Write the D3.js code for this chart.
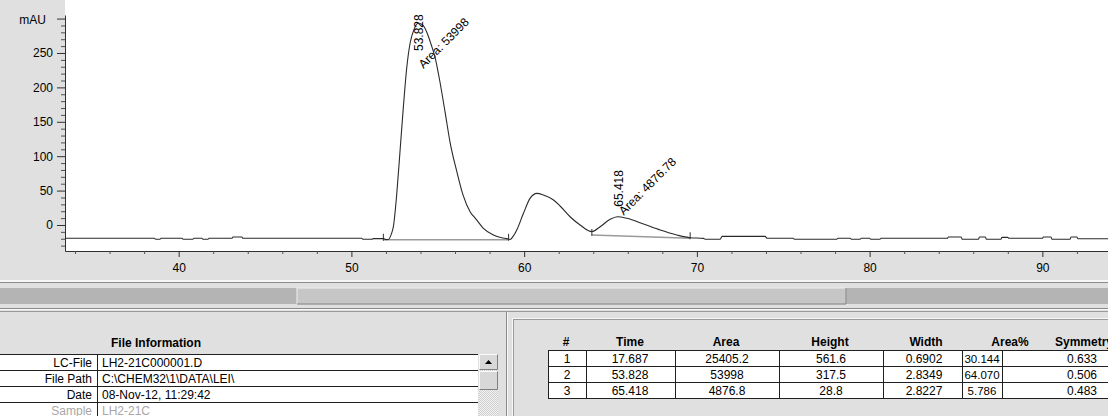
<!DOCTYPE html>
<html><head><meta charset="utf-8">
<script src="https://cdn.jsdelivr.net/npm/d3@7"></script>
<style>
body{margin:0;background:#e0e0e0;overflow:hidden;}
svg{display:block;font-family:"Liberation Sans",Arial,sans-serif;}
</style></head><body>
<svg id="c" width="1108" height="416"></svg>
<script>
// ---------------- data ----------------
const times = [33.42,38.60,38.66,38.92,38.98,40.20,40.26,40.82,40.88,41.34,41.40,41.70,41.76,43.08,43.14,43.66,43.72,50.60,50.66,51.20,51.26,51.85,52.00,52.14,52.30,52.43,52.63,52.82,53.01,53.21,53.40,53.62,53.88,54.15,54.40,54.62,54.85,55.14,55.43,55.72,56.10,56.47,56.88,57.20,57.64,58.22,58.70,59.00,59.19,59.35,59.58,59.96,60.35,60.74,61.12,61.70,62.08,62.66,63.24,63.92,64.40,64.98,65.42,65.95,66.91,67.88,68.84,69.61,70.38,70.50,71.35,71.46,73.95,74.07,75.58,75.64,78.10,78.16,78.88,78.94,79.45,79.51,80.00,80.06,80.60,80.66,84.50,84.56,85.30,85.36,86.30,86.36,86.70,86.76,87.60,87.66,88.00,88.06,90.00,90.06,90.50,90.56,91.60,91.66,92.00,92.06,93.80];
const signal = [-19.3,-19.3,-20.8,-20.8,-19.3,-19.3,-20.8,-20.8,-19.3,-19.3,-20.8,-20.8,-19.3,-19.3,-17.5,-17.5,-19.3,-19.3,-20.8,-20.8,-19.8,-19.8,-21.2,-21.0,-14,-2.5,46.5,109,172,230,264.5,284,293.5,290,278,262,243,206,163,119,78,43,19,9,-4.8,-14.5,-18.5,-19.8,-21,-17,-7,17,39,46,43.6,36.3,27.6,12,0,-9.7,-2.5,8.3,12,9.7,1.5,-7.3,-14.5,-18.5,-19.5,-20.8,-20.8,-16.5,-16.5,-19.3,-19.3,-20.8,-20.8,-19.3,-19.3,-20.8,-20.8,-19.3,-19.3,-20.8,-20.8,-19.3,-19.3,-17.5,-17.5,-20.8,-20.8,-17.5,-17.5,-20.8,-20.8,-18,-18,-19.3,-19.3,-17.5,-17.5,-20.8,-20.8,-17.5,-17.5,-20,-20];

const yMajorTicks = [0,50,100,150,200,250,300];
const yAxisUnit = "mAU";
const xMajorTicks = [40,50,60,70,80,90];

// integration baselines (start/end time and level)
const baseStartTime = [51.85, 63.92];
const baseEndTime   = [59.10, 69.61];
const baseStartVal  = [-21.5, -14.5];
const baseEndVal    = [-21.5, -19.3];

// annotated peaks on the chart
const labelTimes = [53.828, 65.418];
const labelAreas = ["53998", "4876.78"];

// peak table
const pkNo     = [1, 2, 3];
const pkTime   = [17.687, 53.828, 65.418];
const pkArea   = [25405.2, 53998, 4876.8];
const pkHeight = [561.6, 317.5, 28.8];
const pkWidth  = [0.6902, 2.8349, 2.8227];
const pkAreaP  = [30.144, 64.070, 5.786];
const pkSym    = [0.633, 0.506, 0.483];
const pkHeaders = ["#","Time","Area","Height","Width","Area%","Symmetry"];

// file information
const infoLabels = ["LC-File","File Path","Date","Sample"];
const infoValues = ["LH2-21C000001.D","C:\\CHEM32\\1\\DATA\\LEI\\","08-Nov-12, 11:29:42","LH2-21C"];
const infoTitle = "File Information";

// ---------------- drawing ----------------
const W = 1108, H = 416;
const M = {left: 65, top: 15, bottom: 251};
const svg = d3.select("#c");
const bg = "#e0e0e0";

svg.append("rect").attr("width", W).attr("height", H).attr("fill", bg);
svg.append("rect").attr("x", M.left).attr("y", 0).attr("width", W - M.left)
   .attr("height", M.bottom).attr("fill", "#fff");

const x = d3.scaleLinear().domain([33.42, 93.8]).range([M.left, W]);
const y = d3.scaleLinear().domain([-37.8, 305.2]).range([M.bottom, M.top]);

const defs = svg.append("defs");
defs.append("clipPath").attr("id", "plotclip").append("rect")
  .attr("x", M.left).attr("y", M.top).attr("width", W - M.left).attr("height", M.bottom - M.top);

const pat = defs.append("pattern").attr("id", "chk").attr("width", 2).attr("height", 2)
  .attr("patternUnits", "userSpaceOnUse");
pat.append("rect").attr("width", 2).attr("height", 2).attr("fill", "#f2f2f2");
pat.append("rect").attr("width", 1).attr("height", 1).attr("fill", "#cfcfcf");
pat.append("rect").attr("x", 1).attr("y", 1).attr("width", 1).attr("height", 1).attr("fill", "#cfcfcf");

// y axis
const gy = svg.append("g").attr("transform", `translate(${M.left},0)`)
  .call(d3.axisLeft(y).tickValues(yMajorTicks).tickSize(8).tickPadding(4).tickSizeOuter(0)
    .tickFormat(d => d === 300 ? yAxisUnit : d));
gy.selectAll("text").attr("font-size", 12).attr("font-family", "Liberation Sans, Arial").attr("fill", "#000")
  .filter(d => d === 300).attr("x", -19).attr("dy", "0.45em");
gy.selectAll("line,path").attr("stroke", "#303030");
const yMinor = d3.range(-30, 301, 10).filter(v => v % 50 !== 0);
const gym = svg.append("g").attr("transform", `translate(${M.left},0)`)
  .call(d3.axisLeft(y).tickValues(yMinor).tickSize(4).tickFormat(""));
gym.select(".domain").remove();
gym.selectAll("line").attr("stroke", "#505050");

// x axis
const gx = svg.append("g").attr("transform", `translate(0,${M.bottom})`)
  .call(d3.axisBottom(x).tickValues(xMajorTicks).tickSize(6).tickPadding(6).tickSizeOuter(0));
gx.selectAll("text").attr("font-size", 12).attr("font-family", "Liberation Sans, Arial").attr("fill", "#000");
gx.selectAll("line,path").attr("stroke", "#303030");
const xMinor = d3.range(34, 94, 2).filter(v => v % 10 !== 0);
const gxm = svg.append("g").attr("transform", `translate(0,${M.bottom})`)
  .call(d3.axisBottom(x).tickValues(xMinor).tickSize(3).tickFormat(""));
gxm.select(".domain").remove();
gxm.selectAll("line").attr("stroke", "#505050");

// plot content
const plot = svg.append("g").attr("clip-path", "url(#plotclip)");
const pts = times.map((t, i) => [t, signal[i]]);

baseStartTime.forEach((t, i) => {
  plot.append("line").attr("x1", x(t)).attr("y1", y(baseStartVal[i]))
    .attr("x2", x(baseEndTime[i])).attr("y2", y(baseEndVal[i]))
    .attr("stroke", "#9a9a9a").attr("stroke-width", 1.5);
});

plot.append("path").datum(pts)
  .attr("d", d3.line().x(d => x(d[0])).y(d => y(d[1])).curve(d3.curveMonotoneX))
  .attr("fill", "none").attr("stroke", "#2a2a2a").attr("stroke-width", 1.1);

baseStartTime.forEach((t, i) => {
  [[t, baseStartVal[i]], [baseEndTime[i], baseEndVal[i]]].forEach(([tt, vv]) => {
    plot.append("line").attr("x1", x(tt)).attr("x2", x(tt))
      .attr("y1", y(vv) - 6).attr("y2", y(vv) + 1).attr("stroke", "#303030");
  });
});

const bis = d3.bisector(d => d[0]).left;
function valAt(t) {
  const i = Math.max(1, Math.min(pts.length - 1, bis(pts, t)));
  const a = pts[i - 1], b = pts[i];
  return a[1] + (b[1] - a[1]) * (t - a[0]) / (b[0] - a[0]);
}
labelTimes.forEach((t, i) => {
  const px = x(t);
  const ys = Math.max(y(valAt(t)) - 10, M.top + 36);
  plot.append("text").attr("transform", `translate(${px + 5},${ys}) rotate(-90)`)
    .attr("font-size", 12).attr("fill", "#000").text(t.toFixed(3));
  const dy = i === 0 ? 18 : 9;
  plot.append("text").attr("transform", `translate(${px + 6},${ys + dy}) rotate(-45)`)
    .attr("font-size", 12).attr("fill", "#000").text("Area: " + labelAreas[i]);
});

// ---------------- window chrome ----------------
svg.append("rect").attr("x", 0).attr("y", 280).attr("width", W).attr("height", 2).attr("fill", "#f6f6f6");
svg.append("rect").attr("x", 0).attr("y", 282).attr("width", W).attr("height", 1).attr("fill", "#8a8a8a");
svg.append("rect").attr("x", 0).attr("y", 288).attr("width", W).attr("height", 16).attr("fill", "#b4b4b4");
svg.append("rect").attr("x", 297).attr("y", 288).attr("width", 549).attr("height", 16).attr("fill", "#c6c6c6")
  .attr("stroke", "#f0f0f0").attr("stroke-width", 1);
svg.append("line").attr("x1", 846).attr("x2", 846).attr("y1", 288).attr("y2", 304).attr("stroke", "#707070");
svg.append("line").attr("x1", 297).attr("x2", 846).attr("y1", 304).attr("y2", 304).attr("stroke", "#707070");
svg.append("rect").attr("x", 0).attr("y", 308).attr("width", W).attr("height", 1).attr("fill", "#8a8a8a");
svg.append("rect").attr("x", 0).attr("y", 309).attr("width", W).attr("height", 1).attr("fill", "#f8f8f8");
svg.append("rect").attr("x", 0).attr("y", 311).attr("width", W).attr("height", 1).attr("fill", "#9a9a9a");
svg.append("rect").attr("x", 506).attr("y", 312).attr("width", 1).attr("height", H).attr("fill", "#8a8a8a");
svg.append("rect").attr("x", 507).attr("y", 312).attr("width", 1).attr("height", H).attr("fill", "#f8f8f8");
svg.append("rect").attr("x", 512).attr("y", 318).attr("width", 1).attr("height", H).attr("fill", "#f8f8f8");
svg.append("rect").attr("x", 512).attr("y", 318).attr("width", W).attr("height", 1).attr("fill", "#f8f8f8");
svg.append("rect").attr("x", 513).attr("y", 319).attr("width", 1).attr("height", H).attr("fill", "#9a9a9a");
svg.append("rect").attr("x", 513).attr("y", 319).attr("width", W).attr("height", 1).attr("fill", "#9a9a9a");

// ---------------- left panel: file information ----------------
const L = svg.append("g");
L.append("text").attr("x", 156).attr("y", 347).attr("text-anchor", "middle")
  .attr("font-size", 12).attr("font-weight", "bold").text(infoTitle);
const rowTop = 354, rowH = 16, tblRight = 478, divX = 97;
infoLabels.forEach((lab, i) => {
  const ry = rowTop + i * rowH;
  L.append("rect").attr("x", 0).attr("y", ry).attr("width", tblRight).attr("height", rowH).attr("fill", "#fff");
  const col = i === 3 ? "#a8a8a8" : "#000";
  L.append("text").attr("x", 92).attr("y", ry + 12.5).attr("text-anchor", "end")
    .attr("font-size", 12).attr("fill", col).text(lab);
  L.append("text").attr("x", 102).attr("y", ry + 12.5)
    .attr("font-size", 12).attr("fill", col).text(infoValues[i]);
});
d3.range(0, 4).forEach(i => {
  L.append("line").attr("x1", 0).attr("x2", tblRight).attr("y1", rowTop + i * rowH + 0.5)
    .attr("y2", rowTop + i * rowH + 0.5).attr("stroke", "#202020");
});
L.append("line").attr("x1", divX + 0.5).attr("x2", divX + 0.5).attr("y1", rowTop).attr("y2", H)
  .attr("stroke", "#202020");
L.append("rect").attr("x", 479).attr("y", rowTop).attr("width", 19).attr("height", H - rowTop).attr("fill", "url(#chk)");
[[rowTop, 16], [rowTop + 17, 19]].forEach(([by, bh]) => {
  L.append("rect").attr("x", 479).attr("y", by).attr("width", 19).attr("height", bh).attr("fill", "#d8d8d8");
  L.append("path").attr("d", `M479.5,${by + bh - 0.5}V${by + 0.5}H497.5`).attr("stroke", "#fafafa").attr("fill", "none");
  L.append("path").attr("d", `M479.5,${by + bh - 0.5}H497.5V${by + 0.5}`).attr("stroke", "#808080").attr("fill", "none");
});
L.append("path").attr("d", `M485,${rowTop + 10}L488.5,${rowTop + 6}L492,${rowTop + 10}Z`).attr("fill", "#000");

// ---------------- right panel: peak table ----------------
const R = svg.append("g");
const colEdges = [548, 586, 675, 779, 883, 962, 1002, 1160];
const headCenters = [566, 630, 726, 830, 926, 1010, 1084];
const valCenters = [567, 630, 727, 831, 924, 982, 1082];
const tTop = 350, tRowH = 16;
pkHeaders.forEach((h, j) => {
  R.append("text").attr("x", headCenters[j]).attr("y", 346).attr("text-anchor", "middle")
    .attr("font-size", 12).attr("font-weight", "bold").text(h);
});
R.append("rect").attr("x", colEdges[0]).attr("y", tTop).attr("width", colEdges[7] - colEdges[0])
  .attr("height", tRowH * 3).attr("fill", "#fff");
const rows = pkNo.map((n, i) => [String(n), pkTime[i].toFixed(3), String(pkArea[i]), pkHeight[i].toFixed(1),
  pkWidth[i].toFixed(4), pkAreaP[i].toFixed(3), pkSym[i].toFixed(3)]);
rows.forEach((r, i) => {
  r.forEach((v, j) => {
    R.append("text").attr("x", valCenters[j]).attr("y", tTop + i * tRowH + 12.5).attr("text-anchor", "middle")
      .attr("font-size", j === 5 ? 11.5 : 12).text(v);
  });
});
d3.range(0, 4).forEach(i => {
  R.append("line").attr("x1", colEdges[0]).attr("x2", W).attr("y1", tTop + i * tRowH + 0.5)
    .attr("y2", tTop + i * tRowH + 0.5).attr("stroke", "#202020");
});
colEdges.slice(0, 7).forEach(cx => {
  R.append("line").attr("x1", cx + 0.5).attr("x2", cx + 0.5).attr("y1", tTop).attr("y2", tTop + 3 * tRowH)
    .attr("stroke", "#202020");
});
</script>
</body></html>
